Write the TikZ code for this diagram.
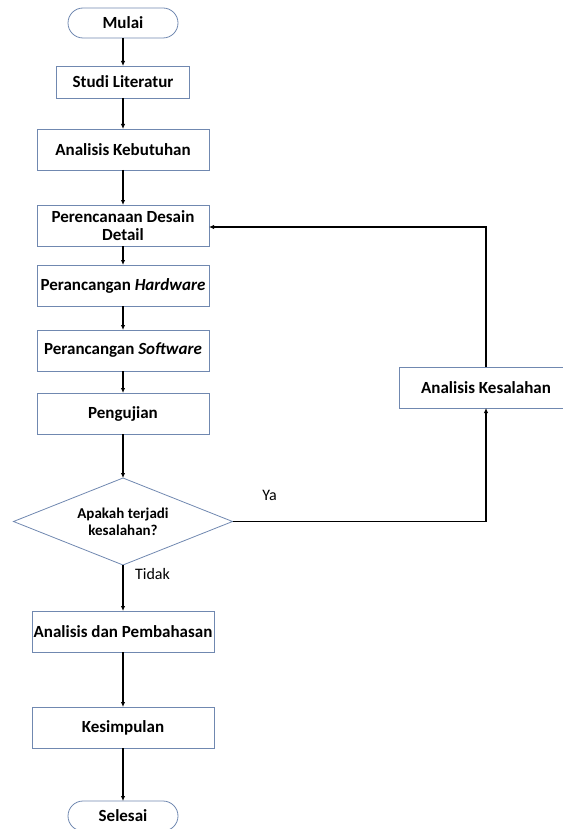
\documentclass[tikz,border=0pt]{standalone}
\usepackage{fontspec}
\setmainfont{Carlito}
\usepackage{xcolor}
\usetikzlibrary{arrows.meta,positioning,shapes.geometric}
\definecolor{boxline}{HTML}{7088B0}

\begin{document}
\begin{tikzpicture}[>={Latex[length=5pt,width=4.5pt]},x=1pt,y=1pt,font=\fontsize{17}{18}\selectfont\bfseries]
  \tikzstyle{stepbox}=[draw=boxline,line width=0.8pt,outer sep=0pt,minimum width=172pt,minimum height=41pt,align=center,inner sep=1pt]
  \tikzstyle{terminal}=[draw=boxline,line width=0.8pt,outer sep=0pt,rounded corners=15pt,minimum width=110pt,minimum height=30pt]
  \tikzstyle{decision}=[diamond,aspect=2.5,draw=boxline,line width=0.8pt,outer sep=0pt,minimum width=219pt,minimum height=87pt,inner sep=0pt,align=center,font=\fontsize{15}{17}\selectfont\bfseries]
  \tikzstyle{flow}=[->,line width=1.6pt]
  \tikzstyle{answer}=[font=\fontsize{16}{18}\selectfont\mdseries]
  \useasboundingbox (0,0) rectangle (562,-829);
  \node[terminal] (mulai) at (123,-23) {Mulai};
  \node[stepbox,minimum width=133pt,minimum height=32pt,below=28pt of mulai] (studi) {Studi Literatur};
  \node[stepbox,below=31pt of studi] (kebutuhan) {Analisis Kebutuhan};
  \node[stepbox,below=35pt of kebutuhan] (desain) {Perencanaan Desain\\Detail};
  \node[stepbox,below=19pt of desain] (hardware) {Perancangan \textit{Hardware}};
  \node[stepbox,below=24pt of hardware] (software) {Perancangan \textit{Software}};
  \node[stepbox,below=22pt of software] (uji) {Pengujian};
  \node[decision,below=44pt of uji] (cek) {Apakah terjadi\\kesalahan?};
  \node[stepbox,minimum width=182pt,below=46pt of cek] (bahas) {Analisis dan Pembahasan};
  \node[stepbox,minimum width=182pt,below=55pt of bahas] (simpul) {Kesimpulan};
  \node[terminal,below=53pt of simpul] (selesai) {Selesai};
  \node[stepbox,minimum width=174pt] (salah) at (486,-387.5) {Analisis Kesalahan};
  \draw[flow] (mulai) -- (studi);
  \draw[flow] (studi) -- (kebutuhan);
  \draw[flow] (kebutuhan) -- (desain);
  \draw[flow] (desain) -- (hardware);
  \draw[flow] (hardware) -- (software);
  \draw[flow] (software) -- (uji);
  \draw[flow] (uji) -- (cek);
  \draw[flow] (cek) -- node[answer,pos=0.2,right=8pt] (tidak) {Tidak} (bahas);
  \draw[flow] (bahas) -- (simpul);
  \draw[flow] (simpul) -- (selesai);
  \draw[flow] (cek.east) -| node[answer,pos=0.073,above=17pt] (ya) {Ya} (salah.south);
  \draw[flow] (salah.north) |- ([yshift=-1.5pt]desain.east);
\end{tikzpicture}
\end{document}
